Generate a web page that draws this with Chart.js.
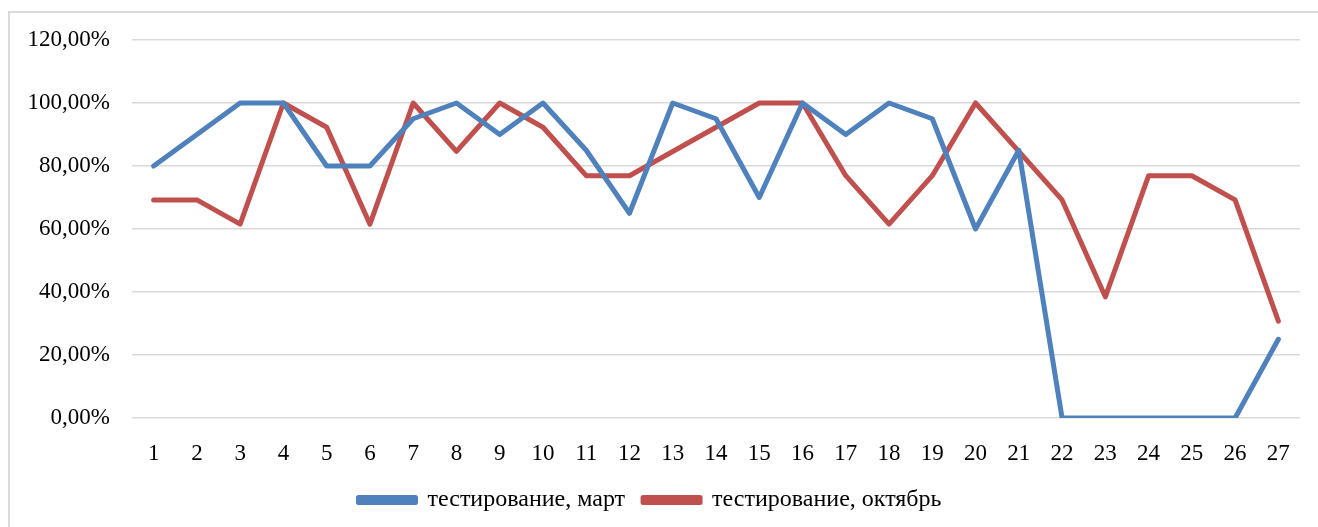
<!DOCTYPE html>
<html>
<head>
<meta charset="utf-8">
<script src="https://cdn.jsdelivr.net/npm/chart.js@4/dist/chart.umd.min.js"></script>
<style>
    html, body { margin: 0; padding: 0; background: #fff; overflow: hidden; }
    #frame {
        position: absolute; left: 8px; top: 11px; width: 2000px; height: 2000px;
        border-left: 2px solid #d9d9d9; border-top: 2px solid #d9d9d9;
    }
    #wrap { position: absolute; left: 0; top: 0; width: 1318px; height: 527px; }
</style>
</head>
<body>
<div id="frame"></div>
<div id="wrap"><canvas id="line-chart"></canvas></div>
<script>
// data
const days = ['1','2','3','4','5','6','7','8','9','10','11','12','13','14','15','16','17','18','19','20','21','22','23','24','25','26','27'];
const marchValues = [80, 90, 100, 100, 80, 80, 95, 100, 90, 100, 85, 65, 100, 95, 70, 100, 90, 100, 95, 60, 85, 0, 0, 0, 0, 0, 25];
const octoberValues = [69.23, 69.23, 61.54, 100, 92.31, 61.54, 100, 84.62, 100, 92.31, 76.92, 76.92, 84.62, 92.31, 100, 100, 76.92, 61.54, 76.92, 100, 84.62, 69.23, 38.46, 76.92, 76.92, 69.23, 30.77];
const seriesNames = ['тестирование, март', 'тестирование, октябрь'];

const fontFamily = '"Liberation Serif", "Times New Roman", serif';
const chartCanvas = document.getElementById('line-chart');

// percent labels with comma decimals
function formatPercent(v) {
    return v.toFixed(2).replace('.', ',') + '%';
}

const chart = new Chart(chartCanvas, {
    type: 'line',
    data: {
        labels: days,
        datasets: [{
            label: seriesNames[0],
            data: marchValues,
            borderColor: '#4F81BD',
            backgroundColor: '#4F81BD',
            borderWidth: 5,
            pointRadius: 0,
            tension: 0,
            borderCapStyle: 'round',
            borderJoinStyle: 'round'
        }, {
            label: seriesNames[1],
            data: octoberValues,
            borderColor: '#C0504D',
            backgroundColor: '#C0504D',
            borderWidth: 5,
            pointRadius: 0,
            tension: 0,
            borderCapStyle: 'round',
            borderJoinStyle: 'round'
        }]
    },
    options: {
        responsive: true,
        maintainAspectRatio: false,
        animation: false,
        layout: { padding: { top: 40, right: 18, left: 0, bottom: 5 } },
        plugins: {
            tooltip: { enabled: false },
            legend: {
                position: 'bottom',
                labels: {
                    color: '#000',
                    font: { family: fontFamily, size: 24 },
                    boxWidth: 57,
                    boxHeight: 5,
                    padding: 18
                }
            }
        },
        scales: {
            x: {
                offset: true,
                grid: { display: false },
                border: { display: false },
                ticks: {
                    color: '#000',
                    font: { family: fontFamily, size: 23 },
                    padding: 14,
                    maxRotation: 0,
                    autoSkip: false
                },
                afterFit: (scale) => { scale.height = 52; }
            },
            y: {
                min: 0,
                max: 120,
                grid: { color: '#d9d9d9', lineWidth: 1.5, drawTicks: false },
                border: { display: false },
                ticks: {
                    stepSize: 20,
                    color: '#000',
                    font: { family: fontFamily, size: 23 },
                    padding: 22,
                    callback: (v) => formatPercent(v)
                },
                afterFit: (scale) => { scale.width = 132; }
            }
        }
    }
});
</script>
</body>
</html>
